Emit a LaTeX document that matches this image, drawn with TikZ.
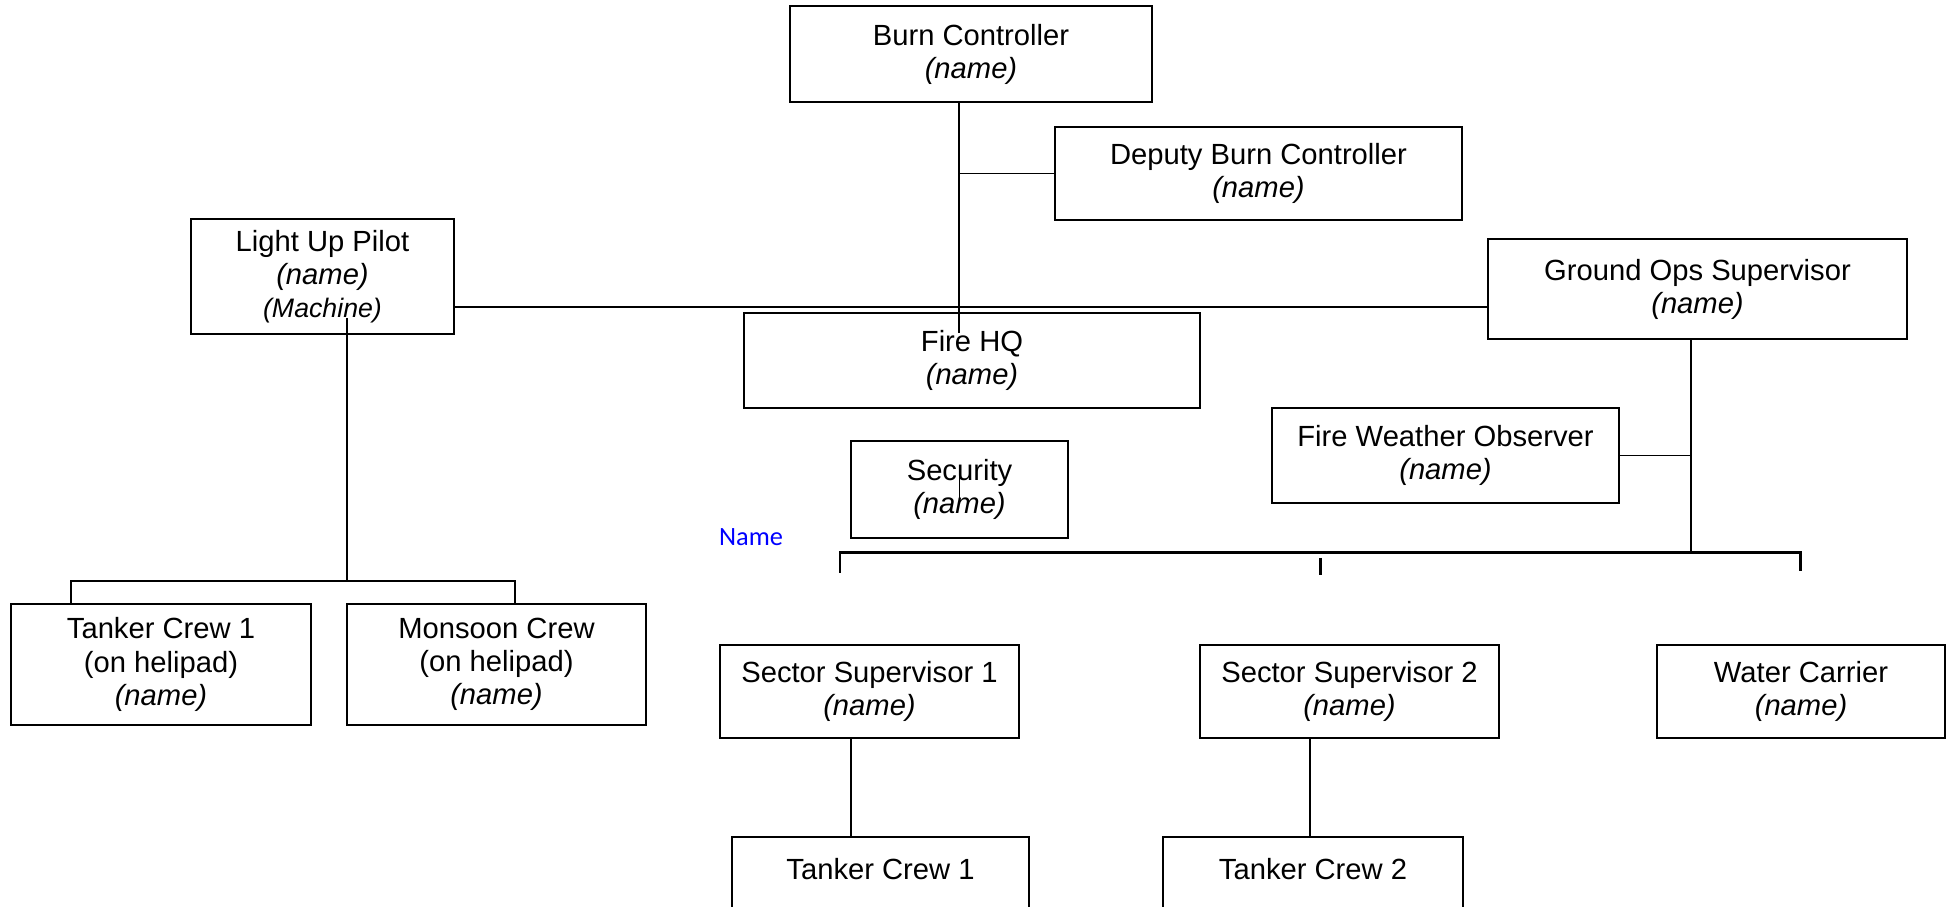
\documentclass[tikz,border=0pt]{standalone}
\usepackage{fontspec}
\setmainfont{Liberation Sans}
\newfontfamily\notefont{Carlito}
\begin{document}
\begin{tikzpicture}[x=0.01cm,y=-0.01cm,
    every node/.style={font=\fontsize{8.3}{9.4}\selectfont},
    box/.style={draw,line width=0.55pt,inner sep=0pt,align=center},
    link/.style={line width=0.55pt},
    bar/.style={line width=0.85pt}]
  \useasboundingbox (0,0) rectangle (1950,907);
  \node[box,minimum width=3.62cm,minimum height=0.96cm] (BC)  at (971,54)     {Burn Controller\\\textit{(name)}};
  \node[box,minimum width=4.07cm,minimum height=0.93cm] (DBC) at (1258.5,173.5) {Deputy Burn Controller\\\textit{(name)}};
  \node[box,minimum width=2.63cm,minimum height=1.15cm] (LUP) at (322.5,276.5) {Light Up Pilot\\\textit{(name)}\\{\fontsize{7.6}{9.4}\selectfont\textit{(Machine)}}};
  \node[box,minimum width=4.19cm,minimum height=1.00cm] (GOS) at (1697.5,289) {Ground Ops Supervisor\\\textit{(name)}};
  \node[box,minimum width=4.56cm,minimum height=0.95cm] (FHQ) at (972,360.5)   {Fire HQ\\\textit{(name)}};
  \node[box,minimum width=3.47cm,minimum height=0.95cm] (FWO) at (1445.5,455.5) {Fire Weather Observer\\\textit{(name)}};
  \node[box,minimum width=2.17cm,minimum height=0.97cm] (SEC) at (959.5,489.5) {Security\\\textit{(name)}};
  \node[box,minimum width=3.00cm,minimum height=1.21cm] (TCH) at (161,664.5)   {Tanker Crew 1\\(on helipad)\\\textit{(name)}};
  \node[box,minimum width=2.99cm,minimum height=1.21cm] (MCH) at (496.5,664.5) {Monsoon Crew\\(on helipad)\\\textit{(name)}};
  \node[box,minimum width=2.99cm,minimum height=0.93cm] (SS1) at (869.5,691.5) {Sector Supervisor 1\\\textit{(name)}};
  \node[box,minimum width=2.99cm,minimum height=0.93cm] (SS2) at (1349.5,691.5) {Sector Supervisor 2\\\textit{(name)}};
  \node[box,minimum width=2.88cm,minimum height=0.93cm] (WC)  at (1801,691.5)  {Water Carrier\\\textit{(name)}};
  \node[box,minimum width=2.97cm,minimum height=0.96cm] (TC1) at (880.5,885)   {Tanker Crew 1\\\mbox{}};
  \node[box,minimum width=3.00cm,minimum height=0.96cm] (TC2) at (1313,885)    {Tanker Crew 2\\\mbox{}};
  \node[anchor=base,text=blue,font=\notefont\fontsize{7.5}{9}\selectfont] (NM) at (751,546) {Name};
  \coordinate (bcend) at (959,333);
  \coordinate (hl)    at (0,307);
  \coordinate (luptop) at (347,318);
  \coordinate (crewj) at (347,581);
  \coordinate (crewl) at (71,581);
  \coordinate (crewr) at (515,581);
  \coordinate (opsj)  at (1691,553);
  \coordinate (brl)   at (840,553);
  \coordinate (brlt)  at (840,573);
  \coordinate (brr)   at (1800,553);
  \coordinate (brrt)  at (1800,571);
  \coordinate (brm)   at (1320,558);
  \coordinate (brmt)  at (1320,575);
  \coordinate (ss1x)  at (851,0);
  \coordinate (ss2x)  at (1310,0);
  \draw[link] (BC.south -| bcend) -- (bcend)
    (DBC.west) -- (DBC.west -| bcend)
    (LUP.east |- hl) -- (GOS.west |- hl)
    (luptop) -- (crewj)
    (TCH.north -| crewl) -- (crewl) -- (crewr) -- (MCH.north -| crewr)
    (GOS.south -| opsj) -- (opsj)
    (FWO.east) -- (FWO.east -| opsj)
    (SEC.center) ++(0,-21) -- ++(0,30)
    (SS1.south -| ss1x) -- (TC1.north -| ss1x)
    (SS2.south -| ss2x) -- (TC2.north -| ss2x);
  \draw[bar] (brlt) -- (brl) -- (brr) -- (brrt)
    (brm) -- (brmt);
\end{tikzpicture}
\end{document}
